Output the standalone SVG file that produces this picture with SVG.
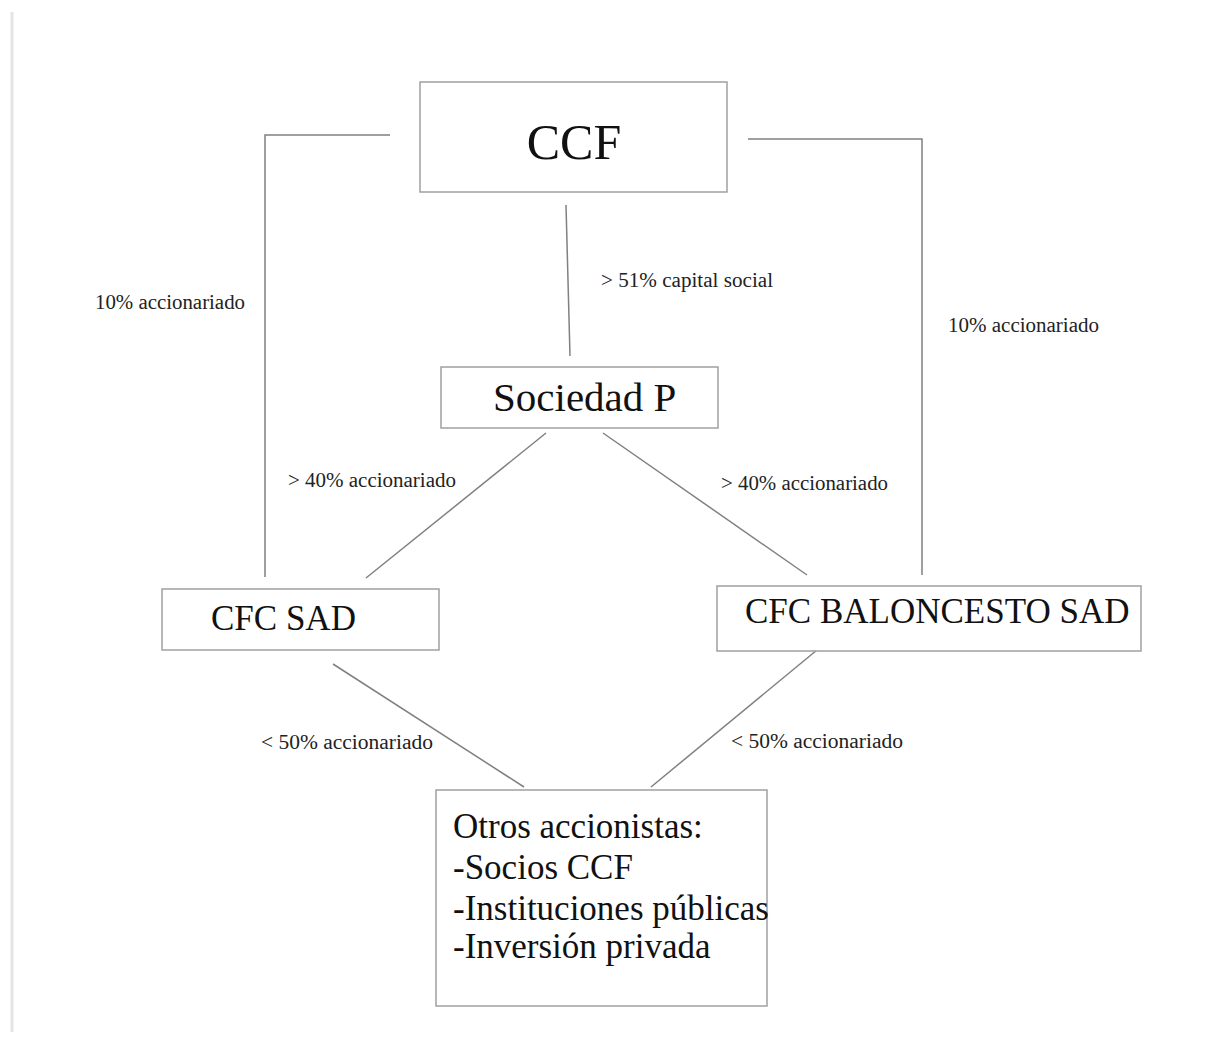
<svg xmlns="http://www.w3.org/2000/svg" width="1212" height="1045" viewBox="0 0 1212 1045">
<style>
.box{fill:#fff;stroke:#a0a0a0;stroke-width:1.5}
.ln{stroke:#808080;stroke-width:1.5;fill:none}
.t{font-family:"Liberation Serif","Times New Roman",serif;fill:#111}
.big{font-size:35px}
.lbl{font-size:20px;fill:#222}
</style>
<rect width="1212" height="1045" fill="#fff"/>
<line x1="12" y1="12" x2="12" y2="1032" stroke="#e4e4e4" stroke-width="3"/>
<g id="connectors">
<polyline class="ln" points="390,135 265,135 265,577"/>
<polyline class="ln" points="748,139 922,139 922,575"/>
<line class="ln" x1="566" y1="205" x2="570" y2="356"/>
<line class="ln" x1="546" y1="433" x2="366" y2="578"/>
<line class="ln" x1="603" y1="433" x2="807" y2="575"/>
<line class="ln" x1="333" y1="664" x2="524" y2="787"/>
<line class="ln" x1="817" y1="650" x2="651" y2="787"/>
<text class="t lbl" x="95" y="309" textLength="150" lengthAdjust="spacingAndGlyphs">10% accionariado</text>
<text class="t lbl" x="948" y="332" textLength="151" lengthAdjust="spacingAndGlyphs">10% accionariado</text>
<text class="t lbl" x="601" y="287" textLength="172" lengthAdjust="spacingAndGlyphs">&gt; 51% capital social</text>
<text class="t lbl" x="288" y="487" textLength="168" lengthAdjust="spacingAndGlyphs">&gt; 40% accionariado</text>
<text class="t lbl" x="721" y="490" textLength="167" lengthAdjust="spacingAndGlyphs">&gt; 40% accionariado</text>
<text class="t lbl" x="261" y="749" textLength="172" lengthAdjust="spacingAndGlyphs">&lt; 50% accionariado</text>
<text class="t lbl" x="731" y="748" textLength="172" lengthAdjust="spacingAndGlyphs">&lt; 50% accionariado</text>
</g>
<g id="ccf">
<rect class="box" x="420" y="82" width="307" height="110"/>
<text class="t" x="574" y="159" font-size="50" text-anchor="middle">CCF</text>
</g>
<g id="sociedad-p">
<rect class="box" x="441" y="367" width="277" height="61"/>
<text class="t" x="493" y="411" font-size="41">Sociedad P</text>
</g>
<g id="cfc-sad">
<rect class="box" x="162" y="589" width="277" height="61"/>
<text class="t big" x="211" y="630">CFC SAD</text>
</g>
<g id="cfc-baloncesto-sad">
<rect class="box" x="717" y="586" width="424" height="65"/>
<text class="t big" x="745" y="623">CFC BALONCESTO SAD</text>
</g>
<g id="otros-accionistas">
<rect class="box" x="436" y="790" width="331" height="216"/>
<text class="t big" x="453" y="838">Otros accionistas:</text>
<text class="t big" x="453" y="879">-Socios CCF</text>
<text class="t big" x="453" y="920">-Instituciones públicas</text>
<text class="t big" x="453" y="958">-Inversión privada</text>
</g>
</svg>
